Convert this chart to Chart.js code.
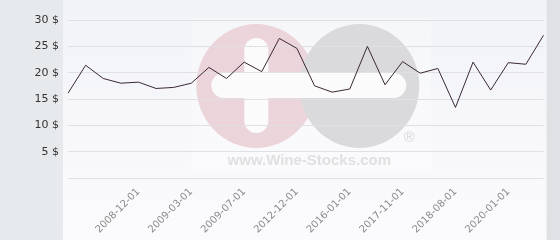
<!DOCTYPE html>
<html>
<head>
<meta charset="utf-8">
<script src="https://cdn.jsdelivr.net/npm/chart.js@4/dist/chart.umd.min.js"></script>
<style>
html,body{margin:0;padding:0;background:#fff;}
#wrap{position:relative;width:560px;height:240px;}
</style>
</head>
<body>
<div id="wrap"><canvas id="c" width="560" height="240"></canvas></div>
<script>
const dates = [
  '2008-06-01','2008-08-01','2008-09-01','2008-11-01','2008-12-01','2009-01-01','2009-02-01',
  '2009-03-01','2009-04-01','2009-05-01','2009-07-01','2010-06-01','2011-09-01','2012-12-01',
  '2014-01-01','2015-01-01','2016-01-01','2016-09-01','2017-04-01','2017-11-01','2018-02-01',
  '2018-05-01','2018-08-01','2019-01-01','2019-07-01','2020-01-01','2020-07-01','2021-01-01'
];
const prices = [
  16.1, 21.4, 18.9, 18.0, 18.2, 17.0, 17.2,
  18.0, 21.0, 18.9, 22.0, 20.2, 26.5, 24.6,
  17.5, 16.3, 16.9, 25.0, 17.7, 22.1, 19.9,
  20.8, 13.4, 22.0, 16.7, 21.9, 21.6, 27.1
];
const shownDates = ['2008-12-01','2009-03-01','2009-07-01','2012-12-01','2016-01-01','2017-11-01','2018-08-01','2020-01-01'];
const yTickValues = [5, 10, 15, 20, 25, 30];
const currency = '$';
const watermarkText = 'www.Wine-Stocks.com';

const bgPlugin = {
  id: 'bg',
  beforeDraw(chart) {
    const ctx = chart.ctx, a = chart.chartArea, W = chart.width, H = chart.height;
    ctx.save();
    ctx.fillStyle = '#e6eaed';
    ctx.fillRect(0, 0, a.left - 5, H);
    const g = ctx.createLinearGradient(0, 0, 0, H);
    g.addColorStop(0, '#f2f3f7');
    g.addColorStop(1, '#fbfbfd');
    ctx.fillStyle = g;
    ctx.fillRect(a.left - 5, 0, a.right - a.left + 8, H);
    ctx.fillStyle = '#dfe1e4';
    ctx.fillRect(a.right + 3, 0, W - a.right - 3, H);
    // watermark (decorative logo)
    const cx = a.left + (a.right - a.left) * 0.396;
    const cy = a.top + 66;
    ctx.fillStyle = 'rgba(255,255,255,0.3)';
    ctx.fillRect(cx - 65, a.top - 2, 240, a.bottom - a.top - 4);
    ctx.fillStyle = '#ecd4db';
    ctx.beginPath(); ctx.ellipse(cx, cy, 60, 62, 0, 0, Math.PI * 2); ctx.fill();
    ctx.fillStyle = '#dadadc';
    ctx.beginPath(); ctx.ellipse(cx + 103, cy, 60, 62, 0, 0, Math.PI * 2); ctx.fill();
    ctx.fillStyle = '#fbfbfc';
    const rr = (x, y, w, h, r) => { ctx.beginPath(); ctx.roundRect(x, y, w, h, r); ctx.fill(); };
    rr(cx - 45, cy - 13, 195, 25, 12.5);
    rr(cx - 12, cy - 48, 24, 95, 12);
    ctx.fillStyle = '#d6d6d8';
    ctx.font = '15px "Liberation Sans", Arial, sans-serif';
    ctx.textAlign = 'center'; ctx.textBaseline = 'middle';
    ctx.fillText('\u00AE', cx + 153, cy + 52);
    ctx.fillStyle = '#e0e0e1';
    ctx.font = 'bold 15px "Liberation Sans", Arial, sans-serif';
    ctx.fillText(watermarkText, cx + 53, cy + 75);
    ctx.restore();
  }
};

new Chart(document.getElementById('c'), {
  type: 'line',
  data: {
    labels: dates,
    datasets: [{
      data: prices,
      borderColor: '#3a2833',
      borderWidth: 1,
      pointRadius: 0,
      pointHoverRadius: 0,
      tension: 0,
      fill: false
    }]
  },
  options: {
    responsive: false,
    animation: false,
    events: [],
    plugins: { legend: { display: false }, tooltip: { enabled: false } },
    layout: { padding: { top: 20, right: 6, left: 0, bottom: 0 } },
    scales: {
      x: {
        offset: false,
        grid: { display: false, drawTicks: false },
        border: { display: false },
        afterFit(s) { s.height = 62; },
        ticks: {
          autoSkip: false,
          minRotation: 45,
          maxRotation: 45,
          padding: 8,
          color: '#8a8a8a',
          font: { family: '"DejaVu Sans", sans-serif', size: 10 },
          callback(v, i) { const l = dates[i]; return shownDates.includes(l) ? l : ''; }
        }
      },
      y: {
        min: 0,
        max: 30,
        afterFit(s) { s.width = 68; },
        afterBuildTicks(s) { s.ticks = [0].concat(yTickValues).map(v => ({ value: v })); },
        grid: { color: '#e0e0e4', lineWidth: 1, drawTicks: false },
        border: { display: false },
        ticks: {
          padding: 9,
          color: '#333333',
          font: { family: '"DejaVu Sans", sans-serif', size: 11 },
          callback(v) { return yTickValues.includes(v) ? v + ' ' + currency : ''; }
        }
      }
    }
  },
  plugins: [bgPlugin]
});
</script>
</body>
</html>
